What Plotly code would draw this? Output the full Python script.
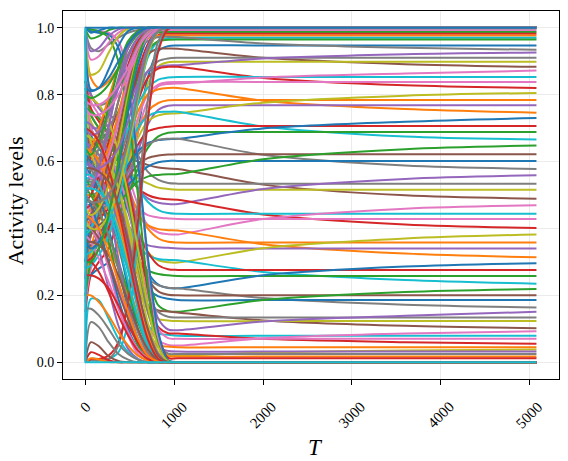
import plotly.graph_objects as go

T_GRID = [0, 60, 150, 260, 370, 480, 590, 700, 820, 930, 1040, 2000, 3600, 5080]

# units that end at 1
return_top = [
    [1.0, 0.985, 0.992, 1, 1, 1, 1, 1, 1, 1],
    [0.995, 0.968, 0.975, 0.993, 1, 1, 1, 1, 1, 1],
    [0.99, 0.93, 0.94, 0.975, 0.995, 1, 1, 1, 1, 1],
    [0.985, 0.905, 0.915, 0.955, 0.985, 1, 1, 1, 1, 1],
    [0.98, 0.86, 0.87, 0.925, 0.975, 0.997, 1, 1, 1, 1],
    [0.975, 0.815, 0.82, 0.875, 0.945, 0.99, 1, 1, 1, 1],
    [0.80, 0.79, 0.80, 0.83, 0.88, 0.94, 0.98, 0.996, 1, 1],
    [0.70, 0.68, 0.69, 0.74, 0.82, 0.91, 0.97, 0.995, 1, 1],
    [0.58, 0.55, 0.56, 0.62, 0.72, 0.85, 0.94, 0.985, 1, 1],
    [0.46, 0.44, 0.46, 0.53, 0.65, 0.80, 0.92, 0.98, 0.998, 1],
    [0.36, 0.34, 0.36, 0.44, 0.58, 0.75, 0.89, 0.97, 0.997, 1],
    [0.64, 0.62, 0.66, 0.76, 0.88, 0.96, 0.99, 1, 1, 1],
    [0.52, 0.52, 0.58, 0.70, 0.84, 0.94, 0.985, 0.998, 1, 1],
    [0.76, 0.74, 0.74, 0.76, 0.80, 0.86, 0.92, 0.97, 0.995, 1],
    [0.42, 0.40, 0.40, 0.44, 0.52, 0.64, 0.79, 0.92, 0.99, 1],
    [0.82, 0.81, 0.82, 0.85, 0.90, 0.95, 0.985, 1, 1, 1],
    [0.30, 0.30, 0.34, 0.44, 0.60, 0.78, 0.91, 0.98, 0.998, 1],
    [0.60, 0.58, 0.58, 0.60, 0.64, 0.72, 0.83, 0.94, 0.99, 1],
    [0.78, 0.77, 0.77, 0.79, 0.83, 0.88, 0.94, 0.98, 0.998, 1],
    [0.50, 0.48, 0.48, 0.50, 0.56, 0.66, 0.80, 0.93, 0.99, 1],
]

# units that end at 0
return_bottom = [
    [0, 0.012, 0.008, 0.001, 0, 0, 0, 0, 0, 0],
    [0.004, 0.03, 0.022, 0.006, 0, 0, 0, 0, 0, 0],
    [0.008, 0.06, 0.048, 0.018, 0.004, 0, 0, 0, 0, 0],
    [0.015, 0.12, 0.105, 0.06, 0.025, 0.008, 0, 0, 0, 0],
    [0.025, 0.19, 0.185, 0.13, 0.07, 0.03, 0.008, 0, 0, 0],
    [0.20, 0.20, 0.18, 0.14, 0.09, 0.05, 0.02, 0.006, 0, 0],
    [0.30, 0.30, 0.27, 0.21, 0.14, 0.08, 0.035, 0.01, 0.001, 0],
    [0.40, 0.40, 0.37, 0.30, 0.21, 0.13, 0.06, 0.02, 0.003, 0],
    [0.48, 0.48, 0.45, 0.38, 0.28, 0.18, 0.09, 0.03, 0.005, 0],
    [0.56, 0.56, 0.53, 0.46, 0.36, 0.24, 0.13, 0.05, 0.008, 0],
    [0.64, 0.63, 0.60, 0.53, 0.43, 0.31, 0.18, 0.08, 0.015, 0.001],
    [0.26, 0.26, 0.25, 0.22, 0.17, 0.11, 0.06, 0.02, 0.003, 0],
    [0.36, 0.36, 0.35, 0.32, 0.26, 0.18, 0.10, 0.04, 0.006, 0],
    [0.16, 0.16, 0.14, 0.10, 0.055, 0.025, 0.008, 0, 0, 0],
    [0.52, 0.52, 0.51, 0.47, 0.39, 0.28, 0.16, 0.06, 0.01, 0],
    [0.44, 0.43, 0.40, 0.33, 0.24, 0.15, 0.07, 0.02, 0.002, 0],
    [0.70, 0.69, 0.66, 0.58, 0.46, 0.32, 0.18, 0.07, 0.01, 0],
    [0.58, 0.58, 0.57, 0.54, 0.47, 0.36, 0.22, 0.10, 0.02, 0.001],
]

# units that switch down to 0
cross_down = [
    [0.62, 0.60, 0.56, 0.48, 0.36, 0.22, 0.10, 0.03, 0.003, 0],
    [0.55, 0.52, 0.46, 0.36, 0.24, 0.13, 0.05, 0.01, 0, 0],
    [0.72, 0.71, 0.68, 0.62, 0.52, 0.38, 0.22, 0.09, 0.015, 0],
    [0.48, 0.45, 0.38, 0.28, 0.17, 0.08, 0.025, 0.004, 0, 0],
    [0.68, 0.67, 0.65, 0.60, 0.52, 0.40, 0.26, 0.12, 0.03, 0.002],
    [0.58, 0.56, 0.50, 0.40, 0.28, 0.16, 0.07, 0.02, 0.002, 0],
    [0.76, 0.75, 0.73, 0.68, 0.60, 0.48, 0.33, 0.17, 0.05, 0.004],
    [0.45, 0.42, 0.34, 0.22, 0.11, 0.04, 0.01, 0, 0, 0],
    [1.0, 0.995, 0.99, 0.985, 0.96, 0.85, 0.60, 0.30, 0.07, 0.004],
    [0.64, 0.62, 0.57, 0.49, 0.40, 0.30, 0.19, 0.09, 0.02, 0.001],
    [1.0, 0.99, 0.985, 0.98, 0.94, 0.82, 0.60, 0.32, 0.09, 0.006],
    [0.52, 0.50, 0.45, 0.38, 0.30, 0.21, 0.12, 0.05, 0.01, 0],
    [0.66, 0.64, 0.58, 0.46, 0.31, 0.17, 0.07, 0.02, 0.002, 0],
    [0.42, 0.40, 0.36, 0.30, 0.22, 0.14, 0.07, 0.025, 0.003, 0],
    [0.70, 0.69, 0.66, 0.58, 0.46, 0.31, 0.16, 0.06, 0.008, 0],
    [0.50, 0.47, 0.40, 0.30, 0.19, 0.10, 0.04, 0.01, 0, 0],
    [1.0, 0.995, 0.99, 0.97, 0.90, 0.74, 0.50, 0.23, 0.05, 0.003],
    [0.60, 0.59, 0.56, 0.50, 0.42, 0.32, 0.21, 0.10, 0.025, 0.001],
    [0.38, 0.36, 0.31, 0.24, 0.16, 0.09, 0.04, 0.012, 0.001, 0],
    [0.80, 0.79, 0.77, 0.72, 0.63, 0.50, 0.34, 0.17, 0.045, 0.003],
]

# units that switch up to 1
cross_up = [
    [0.40, 0.42, 0.47, 0.56, 0.68, 0.81, 0.92, 0.98, 0.998, 1],
    [0.48, 0.50, 0.56, 0.66, 0.78, 0.89, 0.96, 0.99, 1, 1],
    [0.34, 0.35, 0.38, 0.44, 0.54, 0.67, 0.81, 0.93, 0.99, 1],
    [0.56, 0.58, 0.64, 0.74, 0.85, 0.94, 0.985, 0.998, 1, 1],
    [0.0, 0.01, 0.01, 0.01, 0.03, 0.12, 0.38, 0.72, 0.94, 0.997],
    [0.44, 0.46, 0.52, 0.62, 0.74, 0.86, 0.94, 0.985, 1, 1],
    [0.30, 0.31, 0.34, 0.40, 0.50, 0.64, 0.80, 0.93, 0.99, 1],
    [0.60, 0.62, 0.68, 0.78, 0.88, 0.95, 0.99, 1, 1, 1],
    [0.0, 0.005, 0.005, 0.01, 0.05, 0.20, 0.48, 0.78, 0.96, 0.998],
    [0.38, 0.40, 0.45, 0.53, 0.64, 0.77, 0.89, 0.97, 0.998, 1],
    [0.52, 0.53, 0.57, 0.64, 0.74, 0.84, 0.92, 0.97, 0.995, 1],
    [0.46, 0.47, 0.50, 0.56, 0.65, 0.76, 0.87, 0.95, 0.993, 1],
    [0.36, 0.38, 0.44, 0.55, 0.69, 0.82, 0.92, 0.975, 0.998, 1],
    [0.50, 0.53, 0.60, 0.71, 0.83, 0.92, 0.97, 0.995, 1, 1],
    [0.28, 0.29, 0.32, 0.38, 0.48, 0.62, 0.78, 0.92, 0.99, 1],
    [0.62, 0.64, 0.70, 0.79, 0.88, 0.95, 0.985, 0.998, 1, 1],
    [0.0, 0.01, 0.01, 0.02, 0.06, 0.18, 0.42, 0.72, 0.93, 0.996],
    [0.42, 0.44, 0.50, 0.60, 0.72, 0.84, 0.93, 0.98, 0.999, 1],
    [0.54, 0.55, 0.60, 0.68, 0.78, 0.88, 0.95, 0.99, 1, 1],
    [0.32, 0.33, 0.36, 0.42, 0.52, 0.66, 0.82, 0.94, 0.995, 1],
]

# units that settle at an intermediate level, approaching from below
upper_paths = [
    [0.99, 0.94, 0.93, 0.95, 0.97, 0.985, 0.993, 0.996, 0.997, 0.997],
    [0.25, 0.40, 0.48, 0.55, 0.66, 0.80, 0.92, 0.975, 0.99, 0.992],
    [0.66, 0.65, 0.66, 0.69, 0.75, 0.84, 0.93, 0.975, 0.986, 0.987],
    [0.15, 0.26, 0.30, 0.34, 0.44, 0.62, 0.82, 0.94, 0.978, 0.982],
    [0.98, 0.85, 0.82, 0.84, 0.88, 0.92, 0.95, 0.968, 0.976, 0.977],
    [0.20, 0.30, 0.36, 0.40, 0.47, 0.60, 0.78, 0.91, 0.96, 0.969],
    [0.60, 0.59, 0.60, 0.62, 0.67, 0.75, 0.85, 0.93, 0.96, 0.964],
    [0.22, 0.26, 0.28, 0.30, 0.36, 0.50, 0.69, 0.85, 0.93, 0.945],
    [0.97, 0.80, 0.77, 0.78, 0.82, 0.88, 0.93, 0.96, 0.972, 0.973],
    [0.30, 0.44, 0.52, 0.58, 0.66, 0.76, 0.86, 0.92, 0.937, 0.938],
    [0.50, 0.50, 0.51, 0.54, 0.60, 0.69, 0.79, 0.87, 0.90, 0.908],
    [0.20, 0.32, 0.38, 0.42, 0.48, 0.58, 0.72, 0.83, 0.885, 0.897],
    [0.70, 0.70, 0.70, 0.71, 0.74, 0.78, 0.83, 0.87, 0.883, 0.887],
    [0.25, 0.38, 0.45, 0.50, 0.57, 0.67, 0.78, 0.85, 0.878, 0.883],
    [0.54, 0.54, 0.55, 0.58, 0.63, 0.70, 0.77, 0.82, 0.845, 0.851],
    [0.18, 0.28, 0.34, 0.38, 0.45, 0.56, 0.69, 0.78, 0.825, 0.832],
    [0.46, 0.46, 0.47, 0.50, 0.56, 0.64, 0.73, 0.80, 0.83, 0.837],
    [0.22, 0.34, 0.42, 0.48, 0.56, 0.66, 0.75, 0.80, 0.816, 0.82],
    [0.43, 0.43, 0.44, 0.47, 0.53, 0.61, 0.69, 0.75, 0.775, 0.783],
    [0.28, 0.40, 0.46, 0.48, 0.50, 0.55, 0.63, 0.71, 0.755, 0.767],
    [0.47, 0.47, 0.48, 0.50, 0.54, 0.60, 0.67, 0.72, 0.738, 0.743],
    [0.30, 0.44, 0.50, 0.54, 0.58, 0.64, 0.70, 0.735, 0.748, 0.749],
    [0.42, 0.42, 0.43, 0.46, 0.51, 0.58, 0.65, 0.69, 0.70, 0.704],
    [0.20, 0.30, 0.36, 0.40, 0.44, 0.50, 0.58, 0.64, 0.675, 0.686],
    [0.47, 0.47, 0.48, 0.50, 0.54, 0.59, 0.63, 0.655, 0.664, 0.667],
    [0.26, 0.38, 0.44, 0.48, 0.52, 0.57, 0.62, 0.65, 0.665, 0.668],
    [0.40, 0.40, 0.41, 0.44, 0.49, 0.55, 0.59, 0.61, 0.618, 0.621],
    [0.30, 0.42, 0.47, 0.48, 0.50, 0.53, 0.56, 0.585, 0.598, 0.602],
    [0.39, 0.39, 0.40, 0.43, 0.47, 0.51, 0.54, 0.555, 0.56, 0.562],
]
upper_tails = [
    [0.997, 0.997, 0.997, 0.997], [0.992, 0.992, 0.992, 0.992],
    [0.987, 0.987, 0.987, 0.987], [0.982, 0.982, 0.982, 0.982],
    [0.977, 0.977, 0.977, 0.977], [0.970, 0.970, 0.970, 0.970],
    [0.965, 0.965, 0.965, 0.965], [0.947, 0.947, 0.947, 0.947],
    [0.972, 0.953, 0.940, 0.934], [0.9375, 0.910, 0.891, 0.883],
    [0.910, 0.910, 0.910, 0.910], [0.898, 0.898, 0.898, 0.898],
    [0.888, 0.908, 0.921, 0.926], [0.883, 0.850, 0.828, 0.820],
    [0.853, 0.853, 0.853, 0.853], [0.833, 0.851, 0.863, 0.872],
    [0.838, 0.838, 0.838, 0.838], [0.820, 0.782, 0.757, 0.746],
    [0.784, 0.784, 0.784, 0.784], [0.768, 0.768, 0.768, 0.768],
    [0.744, 0.776, 0.797, 0.805], [0.749, 0.705, 0.675, 0.666],
    [0.706, 0.706, 0.706, 0.706], [0.688, 0.688, 0.688, 0.688],
    [0.668, 0.699, 0.719, 0.730], [0.668, 0.620, 0.588, 0.578],
    [0.622, 0.622, 0.622, 0.622], [0.602, 0.602, 0.602, 0.602],
    [0.5625, 0.607, 0.637, 0.648],
]

# units that settle at an intermediate level, approaching from above
lower_paths = [
    [0.66, 0.66, 0.66, 0.65, 0.63, 0.61, 0.60, 0.59, 0.582, 0.579],
    [0.84, 0.80, 0.76, 0.74, 0.72, 0.68, 0.62, 0.57, 0.545, 0.536],
    [0.63, 0.63, 0.62, 0.61, 0.59, 0.57, 0.55, 0.535, 0.522, 0.518],
    [0.82, 0.74, 0.70, 0.66, 0.62, 0.57, 0.52, 0.49, 0.477, 0.473],
    [0.66, 0.66, 0.65, 0.63, 0.60, 0.56, 0.52, 0.50, 0.49, 0.487],
    [0.80, 0.70, 0.66, 0.64, 0.62, 0.58, 0.52, 0.48, 0.455, 0.446],
    [0.58, 0.58, 0.57, 0.55, 0.52, 0.49, 0.46, 0.44, 0.433, 0.43],
    [0.84, 0.78, 0.74, 0.70, 0.64, 0.56, 0.47, 0.41, 0.388, 0.383],
    [0.62, 0.62, 0.61, 0.58, 0.54, 0.49, 0.44, 0.41, 0.398, 0.395],
    [0.78, 0.66, 0.62, 0.60, 0.57, 0.52, 0.45, 0.40, 0.37, 0.36],
    [0.53, 0.53, 0.52, 0.49, 0.45, 0.41, 0.37, 0.35, 0.344, 0.342],
    [0.82, 0.72, 0.68, 0.64, 0.58, 0.50, 0.40, 0.33, 0.305, 0.299],
    [0.58, 0.58, 0.57, 0.53, 0.47, 0.41, 0.35, 0.32, 0.309, 0.306],
    [0.76, 0.62, 0.58, 0.56, 0.53, 0.47, 0.39, 0.33, 0.29, 0.278],
    [0.48, 0.48, 0.47, 0.44, 0.39, 0.34, 0.30, 0.275, 0.264, 0.26],
    [0.80, 0.68, 0.64, 0.60, 0.54, 0.45, 0.35, 0.27, 0.232, 0.222],
    [0.54, 0.54, 0.52, 0.48, 0.42, 0.35, 0.29, 0.25, 0.23, 0.223],
    [0.70, 0.56, 0.52, 0.50, 0.46, 0.40, 0.32, 0.25, 0.212, 0.202],
    [0.60, 0.60, 0.58, 0.53, 0.46, 0.37, 0.28, 0.22, 0.197, 0.19],
    [0.84, 0.74, 0.70, 0.66, 0.60, 0.50, 0.38, 0.26, 0.17, 0.153],
    [0.50, 0.50, 0.48, 0.43, 0.36, 0.28, 0.21, 0.17, 0.155, 0.152],
    [0.78, 0.64, 0.60, 0.56, 0.50, 0.41, 0.30, 0.20, 0.15, 0.136],
    [0.62, 0.62, 0.60, 0.54, 0.45, 0.34, 0.23, 0.16, 0.13, 0.125],
    [0.84, 0.80, 0.76, 0.72, 0.65, 0.54, 0.40, 0.25, 0.13, 0.098],
    [0.55, 0.55, 0.53, 0.47, 0.38, 0.27, 0.17, 0.11, 0.086, 0.082],
    [0.74, 0.60, 0.55, 0.50, 0.44, 0.36, 0.26, 0.17, 0.105, 0.087],
    [0.58, 0.58, 0.56, 0.50, 0.41, 0.30, 0.19, 0.11, 0.065, 0.052],
    [0.80, 0.70, 0.66, 0.62, 0.56, 0.46, 0.33, 0.20, 0.10, 0.072],
    [0.42, 0.42, 0.40, 0.35, 0.28, 0.20, 0.12, 0.07, 0.05, 0.047],
    [0.78, 0.66, 0.62, 0.58, 0.52, 0.42, 0.29, 0.16, 0.06, 0.022],
    [0.64, 0.64, 0.62, 0.56, 0.46, 0.34, 0.21, 0.10, 0.045, 0.034],
    [0.72, 0.58, 0.54, 0.50, 0.45, 0.37, 0.27, 0.15, 0.06, 0.026],
    [0.50, 0.50, 0.48, 0.42, 0.34, 0.24, 0.14, 0.06, 0.025, 0.018],
    [0.84, 0.76, 0.72, 0.68, 0.62, 0.52, 0.38, 0.22, 0.08, 0.013],
]
lower_tails = [
    [0.578, 0.531, 0.499, 0.489], [0.534, 0.534, 0.534, 0.534],
    [0.516, 0.516, 0.516, 0.516], [0.473, 0.518, 0.548, 0.559],
    [0.486, 0.442, 0.412, 0.401], [0.444, 0.444, 0.444, 0.444],
    [0.428, 0.428, 0.428, 0.428], [0.382, 0.428, 0.459, 0.469],
    [0.394, 0.353, 0.325, 0.314], [0.358, 0.358, 0.358, 0.358],
    [0.340, 0.340, 0.340, 0.340], [0.298, 0.341, 0.370, 0.382],
    [0.305, 0.270, 0.246, 0.235], [0.276, 0.276, 0.276, 0.276],
    [0.258, 0.258, 0.258, 0.258], [0.221, 0.260, 0.286, 0.296],
    [0.221, 0.192, 0.172, 0.164], [0.200, 0.200, 0.200, 0.200],
    [0.186, 0.186, 0.186, 0.186], [0.151, 0.186, 0.210, 0.219],
    [0.149, 0.125, 0.109, 0.102], [0.134, 0.134, 0.134, 0.134],
    [0.123, 0.123, 0.123, 0.123], [0.096, 0.122, 0.139, 0.151],
    [0.079, 0.079, 0.079, 0.079], [0.086, 0.070, 0.060, 0.055],
    [0.050, 0.072, 0.086, 0.093], [0.070, 0.070, 0.070, 0.070],
    [0.045, 0.045, 0.045, 0.045], [0.020, 0.029, 0.035, 0.038],
    [0.032, 0.032, 0.032, 0.032], [0.025, 0.025, 0.025, 0.025],
    [0.017, 0.017, 0.017, 0.017], [0.012, 0.012, 0.012, 0.012],
]

# last two units: one switching on, one switching off right at the start
FINAL_T = [0, 1, 5080]
final_top = [0, 1, 1]
final_bottom = [1, 0, 0]

X_TICKS = [0, 1000, 2000, 3000, 4000, 5000]
X_TICK_TEXT = ["0", "1000", "2000", "3000", "4000", "5000"]
Y_TICKS = [0.0, 0.2, 0.4, 0.6, 0.8, 1.0]

# ---- styles ----
TAB = {"b": "#1f77b4", "o": "#ff7f0e", "g": "#2ca02c", "r": "#d62728", "p": "#9467bd",
       "br": "#8c564b", "pk": "#e377c2", "gr": "#7f7f7f", "ol": "#bcbd22", "c": "#17becf"}
CYCLE = ["b", "o", "g", "r", "p", "br", "pk", "gr", "ol", "c"]
upper_colors = ["gr", "pk", "g", "r", "o", "c", "g", "b", "gr", "br", "gr", "ol", "p", "r",
                "c", "pk", "pk", "o", "o", "p", "ol", "c", "r", "g", "b", "gr", "br", "b", "g"]
lower_colors = ["br", "gr", "ol", "p", "r", "c", "pk", "pk", "o", "o", "p", "ol", "c", "r",
                "g", "b", "gr", "br", "b", "g", "br", "gr", "ol", "p", "c", "r", "pk", "pk",
                "o", "ol", "p", "gr", "o", "r"]

fig = go.Figure()


def add_line(x, y, color, shape="spline"):
    fig.add_trace(go.Scatter(x=x, y=y, mode="lines",
                             line=dict(color=color, width=2, shape=shape, smoothing=0.85),
                             hoverinfo="skip", showlegend=False))


for i in range(max(len(upper_paths), len(lower_paths))):
    if i < len(upper_paths):
        add_line(T_GRID, upper_paths[i] + upper_tails[i], TAB[upper_colors[i]])
    if i < len(lower_paths):
        add_line(T_GRID, lower_paths[i] + lower_tails[i], TAB[lower_colors[i]])

k = 0
for i in range(max(len(cross_down), len(cross_up))):
    if i < len(cross_down):
        add_line(T_GRID, cross_down[i] + [0, 0, 0, 0], TAB[CYCLE[k % 10]]); k += 1
    if i < len(cross_up):
        add_line(T_GRID, cross_up[i] + [1, 1, 1, 1], TAB[CYCLE[k % 10]]); k += 1
for i in range(max(len(return_top), len(return_bottom))):
    if i < len(return_top):
        add_line(T_GRID, return_top[i] + [1, 1, 1, 1], TAB[CYCLE[k % 10]]); k += 1
    if i < len(return_bottom):
        add_line(T_GRID, return_bottom[i] + [0, 0, 0, 0], TAB[CYCLE[k % 10]]); k += 1

add_line(FINAL_T, final_top, TAB["b"], "linear")
add_line(FINAL_T, final_bottom, TAB["c"], "linear")

SERIF = "Liberation Serif, Times New Roman, serif"
for xv, txt in zip(X_TICKS, X_TICK_TEXT):
    fig.add_annotation(x=xv, y=0, xref="x", yref="paper", text=txt, showarrow=False,
                       textangle=-45, xanchor="center", yanchor="top", yshift=-17,
                       font=dict(family=SERIF, size=15, color="black"))

fig.add_annotation(x=0.51, y=-0.187, xref="paper", yref="paper", text="<i>T</i>",
                   showarrow=False, xanchor="center", yanchor="middle",
                   font=dict(family=SERIF, size=23, color="black"))
fig.add_annotation(x=-0.094, y=0.484, xref="paper", yref="paper", text="Activity levels",
                   showarrow=False, textangle=-90, xanchor="center", yanchor="middle",
                   font=dict(family=SERIF, size=22, color="black"))

fig.update_layout(
    width=568, height=461,
    margin=dict(l=63, r=9, t=11, b=82, autoexpand=False),
    paper_bgcolor="white", plot_bgcolor="white",
    xaxis=dict(range=[-254, 5334], tickvals=X_TICKS, showticklabels=False,
               showgrid=True, gridcolor="#ebebeb", gridwidth=1, zeroline=False,
               showline=True, linecolor="black", linewidth=1, mirror=True,
               ticks="outside", ticklen=5, tickwidth=1, tickcolor="black", automargin=False),
    yaxis=dict(range=[-0.05, 1.05], tickvals=Y_TICKS, tickformat=".1f",
               showgrid=True, gridcolor="#ebebeb", gridwidth=1, zeroline=False,
               showline=True, linecolor="black", linewidth=1, mirror=True,
               ticks="outside", ticklen=5, tickwidth=1, tickcolor="black", automargin=False,
               tickfont=dict(family=SERIF, size=14, color="black")),
)

fig.write_html("out.html", config={"displayModeBar": False},
               post_script="document.body.style.margin='0';document.body.style.overflow='hidden';")
